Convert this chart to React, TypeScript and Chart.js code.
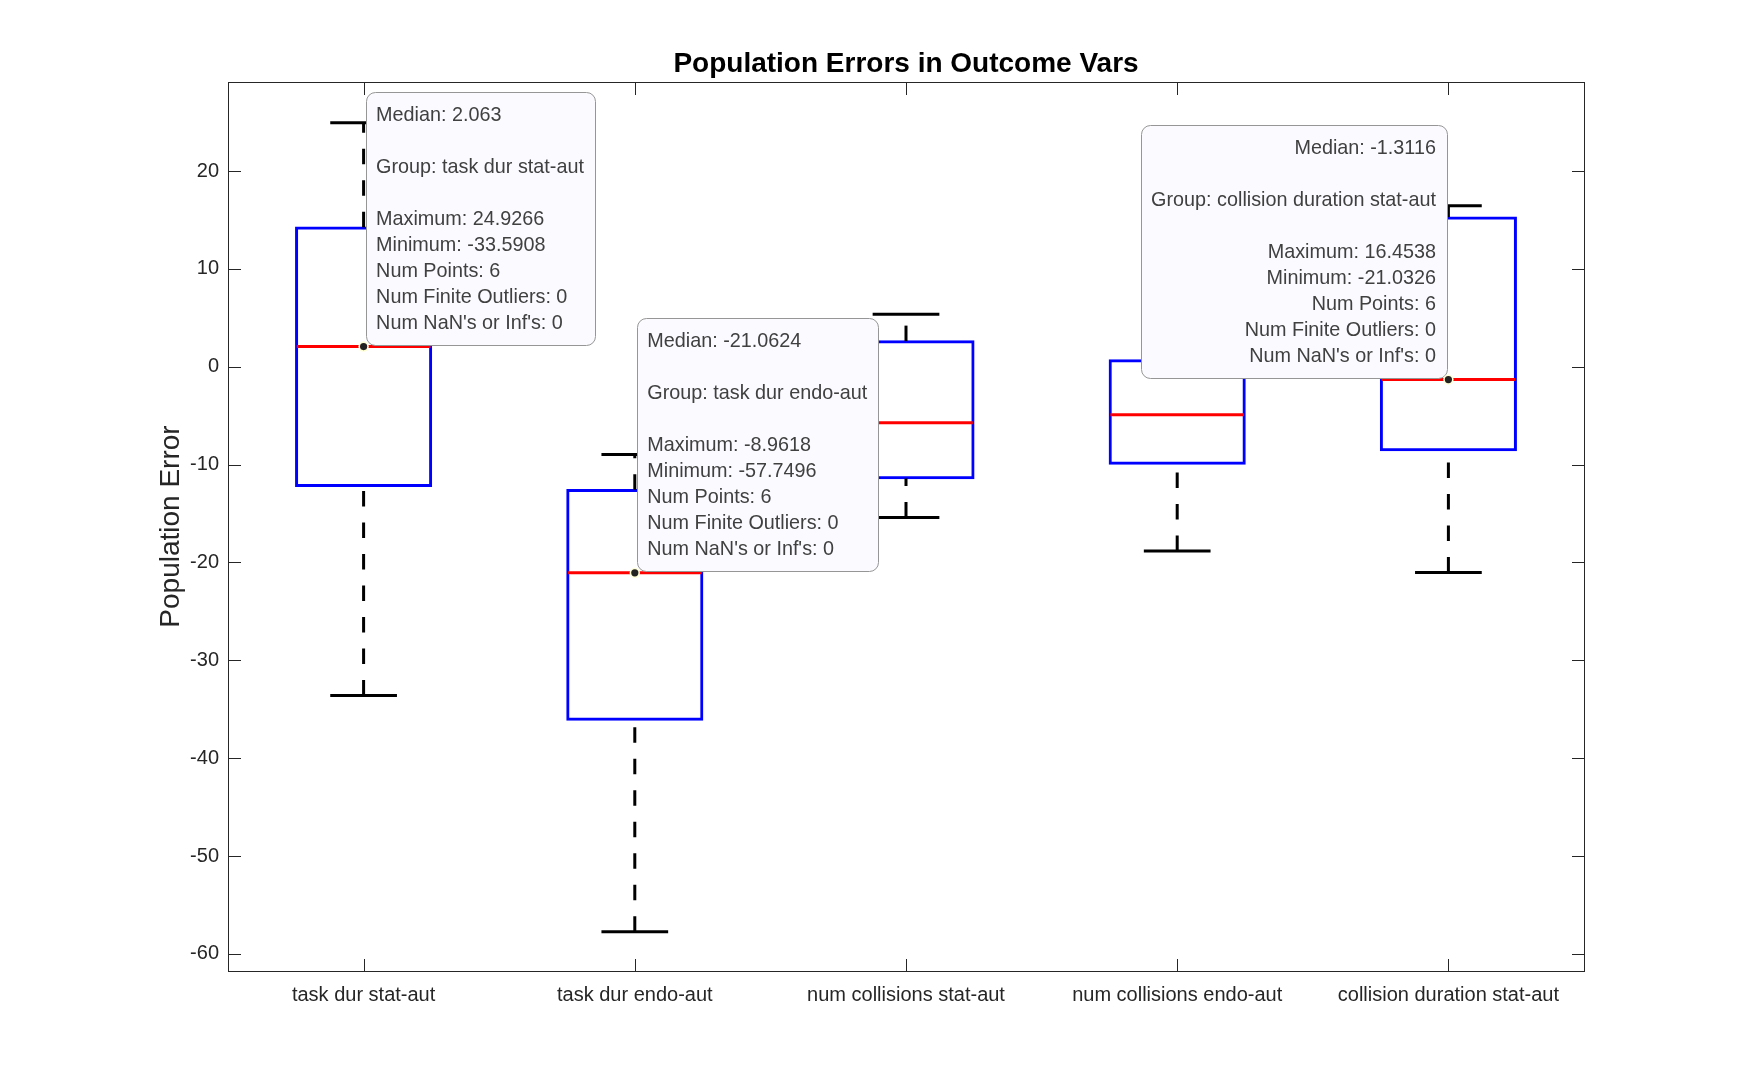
import { useEffect, useRef } from 'react';
import { Chart, registerables } from 'chart.js';

Chart.register(...registerables);

const FONT = '"Liberation Sans", Arial, Helvetica, sans-serif';

const categories = [
  'task dur stat-aut',
  'task dur endo-aut',
  'num collisions stat-aut',
  'num collisions endo-aut',
  'collision duration stat-aut',
];
const q1Values = [-12.22, -36.1, -11.42, -9.93, -8.56];
const q3Values = [14.26, -12.56, 2.62, 0.68, 15.29];
const medianValues = [2.063, -21.0624, -5.71, -4.91, -1.3116];
const maxValues = [24.9266, -8.9618, 5.36, 4.5, 16.4538];
const minValues = [-33.5908, -57.7496, -15.41, -18.83, -21.0326];
const numPoints = [6, 6, 6, 6, 6];
const numFiniteOutliers = [0, 0, 0, 0, 0];
const numNaNInf = [0, 0, 0, 0, 0];

const yTickValues = [-60, -50, -40, -30, -20, -10, 0, 10, 20];
const yMin = -61.75;
const yMax = 29.1;

// which groups carry a data tip, and on which side of the anchor the tip sits
const datatipGroups = [0, 1, 4];
const datatipSides = ['right', 'right', 'left'];

const fmt = (v: number) => String(parseFloat(v.toFixed(4)));

function roundRectPath(ctx: CanvasRenderingContext2D, x: number, y: number, w: number, h: number, r: number) {
  ctx.beginPath();
  ctx.moveTo(x + r, y);
  ctx.lineTo(x + w - r, y);
  ctx.arcTo(x + w, y, x + w, y + r, r);
  ctx.lineTo(x + w, y + h - r);
  ctx.arcTo(x + w, y + h, x + w - r, y + h, r);
  ctx.lineTo(x + r, y + h);
  ctx.arcTo(x, y + h, x, y + h - r, r);
  ctx.lineTo(x, y + r);
  ctx.arcTo(x, y, x + r, y, r);
  ctx.closePath();
}

const boxPlotPlugin = {
  id: 'matlabBoxPlot',
  afterDatasetsDraw(chart: any) {
    const { ctx, scales } = chart;
    const x = scales.x;
    const y = scales.y;
    const catW = x.getPixelForValue(1) - x.getPixelForValue(0);
    ctx.save();
    ctx.lineCap = 'butt';
    for (let i = 0; i < categories.length; i++) {
      const cx = x.getPixelForValue(i);
      // whiskers (dashed, drawn from the lower value upwards)
      ctx.strokeStyle = '#000000';
      ctx.lineWidth = 3;
      ctx.setLineDash([15.5, 16]);
      ctx.beginPath();
      ctx.moveTo(cx, y.getPixelForValue(q3Values[i]));
      ctx.lineTo(cx, y.getPixelForValue(maxValues[i]));
      ctx.stroke();
      ctx.beginPath();
      ctx.moveTo(cx, y.getPixelForValue(minValues[i]));
      ctx.lineTo(cx, y.getPixelForValue(q1Values[i]));
      ctx.stroke();
      ctx.setLineDash([]);
      // caps
      const hw = catW * 0.123;
      [maxValues[i], minValues[i]].forEach((v) => {
        const py = y.getPixelForValue(v);
        ctx.beginPath();
        ctx.moveTo(cx - hw, py);
        ctx.lineTo(cx + hw, py);
        ctx.stroke();
      });
      // median
      ctx.strokeStyle = '#FF0000';
      ctx.lineWidth = 3;
      const my = y.getPixelForValue(medianValues[i]);
      ctx.beginPath();
      ctx.moveTo(cx - catW * 0.25 + 1, my);
      ctx.lineTo(cx + catW * 0.25 - 1, my);
      ctx.stroke();
    }
    ctx.restore();
  },
  afterDraw(chart: any) {
    const { ctx, chartArea: a, scales } = chart;
    const x = scales.x;
    const y = scales.y;
    const axisColor = '#262626';
    const tl = 12.5;
    ctx.save();
    ctx.strokeStyle = axisColor;
    ctx.lineWidth = 1;
    const L = Math.round(a.left) + 0.5;
    const R = Math.round(a.right) + 0.5;
    const T = Math.round(a.top) + 0.5;
    const B = Math.round(a.bottom) + 0.5;
    ctx.strokeRect(L, T, R - L, B - T);
    ctx.beginPath();
    yTickValues.forEach((v) => {
      const py = Math.round(y.getPixelForValue(v)) + 0.5;
      ctx.moveTo(L, py);
      ctx.lineTo(L + tl, py);
      ctx.moveTo(R, py);
      ctx.lineTo(R - tl, py);
    });
    categories.forEach((_, i) => {
      const px = Math.round(x.getPixelForValue(i)) + 0.5;
      ctx.moveTo(px, B);
      ctx.lineTo(px, B - tl);
      ctx.moveTo(px, T);
      ctx.lineTo(px, T + tl);
    });
    ctx.stroke();

    // data tips
    const lineH = 26;
    ctx.font = `19.8px ${FONT}`;
    const anchors: Array<[number, number]> = [];
    datatipGroups.forEach((gi, k) => {
      const side = datatipSides[k];
      const lines = [
        `Median: ${fmt(medianValues[gi])}`,
        '',
        `Group: ${categories[gi]}`,
        '',
        `Maximum: ${fmt(maxValues[gi])}`,
        `Minimum: ${fmt(minValues[gi])}`,
        `Num Points: ${numPoints[gi]}`,
        `Num Finite Outliers: ${numFiniteOutliers[gi]}`,
        `Num NaN's or Inf's: ${numNaNInf[gi]}`,
      ];
      const w = Math.max(...lines.map((l) => ctx.measureText(l).width)) + 21;
      const h = 253;
      const ax = x.getPixelForValue(gi);
      const ay = y.getPixelForValue(medianValues[gi]);
      anchors.push([ax, ay]);
      const left = side === 'right' ? ax + 2 : ax - 2 - w;
      const top = ay - 2 - h;
      roundRectPath(ctx, Math.round(left) + 0.5, Math.round(top) + 0.5, Math.round(w), Math.round(h), 9);
      ctx.fillStyle = '#FAFAFF';
      ctx.fill();
      ctx.strokeStyle = '#969696';
      ctx.lineWidth = 1;
      ctx.stroke();
      ctx.fillStyle = '#404040';
      ctx.textBaseline = 'middle';
      ctx.textAlign = side === 'right' ? 'left' : 'right';
      const tx = side === 'right' ? left + 10.5 : left + w - 10.5;
      lines.forEach((l, j) => {
        if (l) ctx.fillText(l, tx, top + 24 + j * lineH);
      });
    });
    anchors.forEach(([ax, ay]) => {
      ctx.beginPath();
      ctx.arc(ax, ay, 5.2, 0, Math.PI * 2);
      ctx.fillStyle = '#FFFFD8';
      ctx.fill();
      ctx.beginPath();
      ctx.arc(ax, ay, 3.6, 0, Math.PI * 2);
      ctx.fillStyle = '#222222';
      ctx.fill();
    });
    ctx.restore();
  },
};

export default function App() {
  const canvasRef = useRef<HTMLCanvasElement | null>(null);

  useEffect(() => {
    if (!canvasRef.current) return;
    const chart = new Chart(canvasRef.current, {
      type: 'bar',
      data: {
        labels: categories,
        datasets: [
          {
            data: categories.map((_, i) => [q1Values[i], q3Values[i]]) as any,
            backgroundColor: 'rgba(0,0,0,0)',
            borderColor: '#0000FF',
            borderWidth: 1.5,
            inflateAmount: 0.75,
            borderSkipped: false,
            barPercentage: 0.5,
            categoryPercentage: 1.0,
          } as any,
        ],
      },
      options: {
        responsive: false,
        animation: false,
        devicePixelRatio: 1,
        layout: { padding: { left: 0, top: 0, right: 167, bottom: 0 } },
        plugins: {
          legend: { display: false },
          tooltip: { enabled: false },
          title: {
            display: true,
            text: 'Population Errors in Outcome Vars',
            fullSize: false,
            color: '#000000',
            font: { family: FONT, size: 28, weight: 'bold', lineHeight: 1 },
            padding: { top: 50, bottom: 4 },
          },
        },
        scales: {
          x: {
            type: 'category',
            offset: true,
            grid: { display: false, drawTicks: false },
            border: { display: false },
            ticks: {
              color: '#262626',
              font: { family: FONT, size: 20 },
              padding: 12,
              maxRotation: 0,
              autoSkip: false,
            },
            afterFit: (s: any) => {
              s.height = 121;
            },
          },
          y: {
            type: 'linear',
            min: yMin,
            max: yMax,
            grid: { display: false, drawTicks: false },
            border: { display: false },
            ticks: {
              color: '#262626',
              font: { family: FONT, size: 20 },
              padding: 9,
            },
            afterBuildTicks: (s: any) => {
              s.ticks = yTickValues.map((v) => ({ value: v }));
            },
            afterFit: (s: any) => {
              s.width = 228;
            },
            title: {
              display: true,
              text: 'Population Error',
              color: '#262626',
              font: { family: FONT, size: 28 },
              padding: { top: 154, bottom: 0 },
            },
          },
        },
      } as any,
      plugins: [boxPlotPlugin],
    });
    return () => chart.destroy();
  }, []);

  return (
    <div style={{ position: 'absolute', left: 0, top: 0, width: 1751, height: 1092, background: '#ffffff' }}>
      <canvas ref={canvasRef} width={1751} height={1092} style={{ width: 1751, height: 1092, display: 'block' }} />
    </div>
  );
}
